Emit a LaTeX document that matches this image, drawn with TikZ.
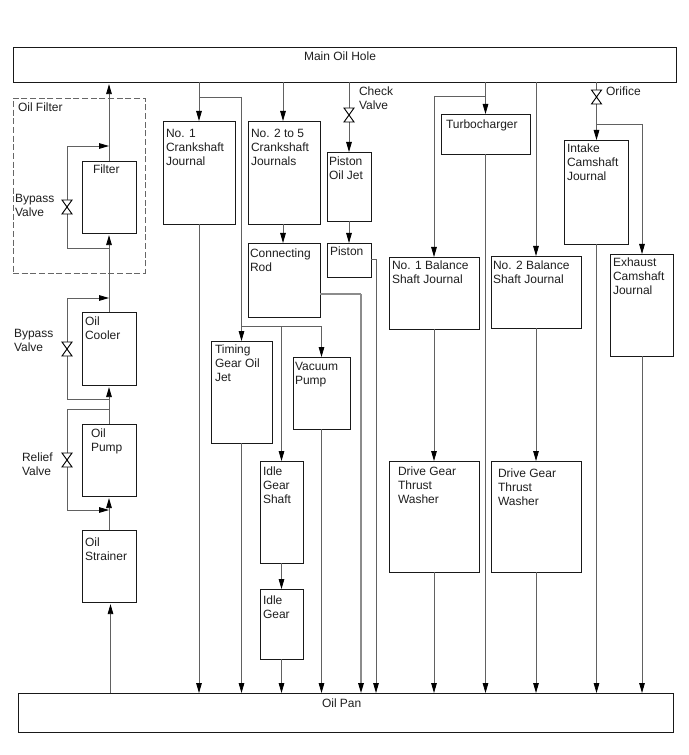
\documentclass[tikz,border=0pt]{standalone}
\usepackage{fontspec}
\setmainfont{Liberation Sans}
\usetikzlibrary{arrows.meta,calc}
\tikzset{
  blockbox/.style={draw=black!90,line width=0.72pt,inner sep=0pt,outer sep=0pt},
  housing/.style={draw=black!60,line width=0.65pt,dash pattern=on 4.5pt off 2pt,inner sep=0pt,outer sep=0pt},
  lbl/.style={anchor=north west,inner sep=0pt,outer sep=0pt,align=left,text=black!88,font=\fontsize{9}{10.5}\selectfont},
  flow/.style={draw=black!62,line width=0.6pt},
  flowheavy/.style={draw=black!45,line width=1pt},
  tip/.style={-{Triangle[length=7.5pt,width=4.2pt,color=black]}},
  upflow/.style={flow,tip,shorten >=1.6pt},
  valveshape/.style={draw=black,line width=0.7pt,fill=white,line join=miter},
}
% a box given by its left, top, right and bottom edges
\newcommand\blockat[5]{\node[blockbox,minimum width={(#4-#2)*0.75pt},minimum height={(#5-#3)*0.75pt}] (#1) at ({(#2+#4)/2},{(#3+#5)/2}) {};}
% text placed by its left edge and first baseline
\newcommand\lblat[4]{\node[lbl] (#1) at (#2,#3-9.33) {\rule{0pt}{7pt}#4};}
% an hourglass valve symbol around a named coordinate
\newcommand\valveat[1]{\draw[valveshape] ($(#1)+(-5,-7)$) -- ($(#1)+(5,-7)$) -- ($(#1)+(-5,7)$) -- ($(#1)+(5,7)$) -- cycle;}
\begin{document}
\begin{tikzpicture}[x=0.75pt,y=-0.75pt]
\useasboundingbox (0,0) rectangle (688,755);
\fill[white] (0,0) rectangle (688,755);

% rails
\blockat{hole}{13}{47}{676}{82}
\blockat{pan}{18}{693}{673}{732}
\node[housing,minimum width={132*0.75pt},minimum height={175*0.75pt}] (housing) at (79,185.5) {};

% lubrication circuit, left column
\blockat{filter}{82}{161}{136}{233}
\blockat{cooler}{82}{312}{136}{385}
\blockat{pump}{82}{424}{136}{496}
\blockat{strainer}{82}{530}{136}{602}

% crankshaft group
\blockat{crank1}{163}{121}{235}{224}
\blockat{crank2}{248}{121}{320}{224}
\blockat{rod}{248}{243}{320}{317}
\blockat{jet}{327}{152}{371}{221}
\blockat{piston}{327}{243}{371}{277}
\blockat{timing}{211}{341}{272}{443}
\blockat{vacuum}{293}{357}{350}{429}
\blockat{idleshaft}{260}{461}{303}{563}
\blockat{idle}{260}{589}{303}{659}

% balance shafts, turbocharger and camshafts
\blockat{turbo}{441}{114}{530}{154}
\blockat{bal1}{389}{257}{479}{329}
\blockat{bal2}{491}{256}{581}{328}
\blockat{wash1}{389}{461}{479}{572}
\blockat{wash2}{491}{461}{581}{572}
\blockat{intake}{564}{140}{628}{244}
\blockat{exhaust}{610}{254}{673}{356}

% branch points and valve positions
\coordinate (fjoinT) at (109,146);
\coordinate (fjoinB) at (109,248);
\coordinate (fleftT) at (67,146);
\coordinate (fleftB) at (67,248);
\coordinate (vfilter) at (67,207);
\coordinate (cjoinT) at (109,298);
\coordinate (cjoinB) at (109,399);
\coordinate (cleftT) at (67,298);
\coordinate (cleftB) at (67,399);
\coordinate (vcooler) at (67,349);
\coordinate (rjoinT) at (109,409);
\coordinate (rjoinB) at (109,510);
\coordinate (rleftT) at (67,409);
\coordinate (rleftB) at (67,510);
\coordinate (vrelief) at (67,460);
\coordinate (sx) at (110.5,650);
\coordinate (c1x) at (199,97);
\coordinate (tx) at (241.5,97);
\coordinate (c2x) at (283,82);
\coordinate (vcheck) at (349,115);
\coordinate (jx) at (349,82);
\coordinate (rodR) at (361,294);
\coordinate (pistonR) at (376,259);
\coordinate (busL) at (241.5,326);
\coordinate (busM) at (281.5,326);
\coordinate (busR) at (321.5,326);
\coordinate (tb) at (485.5,96);
\coordinate (tbL) at (434,96);
\coordinate (b2x) at (536,82);
\coordinate (vorifice) at (596.5,97);
\coordinate (ix) at (596.5,124);
\coordinate (ex) at (642,124);

% connectors, left column
\draw[upflow] (pan.north -| sx) -- (strainer.south -| sx);
\draw[upflow] (strainer.north) -- (pump.south);
\draw[upflow] (pump.north) -- (cooler.south);
\draw[upflow] (cooler.north) -- (filter.south);
\draw[upflow] (filter.north) -- (filter.north |- hole.south);
\draw[flow] (fjoinB) -- (fleftB) -- (fleftT);
\draw[flow,tip] (fleftT) -- (fjoinT);
\draw[flow] (cjoinB) -- (cleftB) -- (cleftT);
\draw[flow,tip] (cleftT) -- (cjoinT);
\draw[flow] (rjoinT) -- (rleftT) -- (rleftB);
\draw[flow,tip] (rleftB) -- (rjoinB);

% connectors, crankshaft group
\draw[flow,tip] (hole.south -| c1x) -- (crank1.north);
\draw[flow] (c1x) -- (tx);
\draw[flow,tip] (tx) -- (timing.north -| tx);
\draw[flow] (busL) -- (busR);
\draw[flow,tip] (busR) -- (vacuum.north -| busR);
\draw[flow,tip] (busM) -- (idleshaft.north -| busM);
\draw[flow,tip] (hole.south -| c2x) -- (crank2.north -| c2x);
\draw[flow,tip] (crank2.south -| c2x) -- (rod.north -| c2x);
\draw[flow,tip] (jx) -- (jet.north -| jx);
\draw[flow,tip] (jet.south -| jx) -- (piston.north -| jx);
\draw[flow,tip] (idleshaft.south -| busM) -- (idle.north -| busM);
\draw[flow,tip] (crank1.south -| c1x) -- (pan.north -| c1x);
\draw[flow,tip] (timing.south -| tx) -- (pan.north -| tx);
\draw[flow,tip] (idle.south -| busM) -- (pan.north -| busM);
\draw[flow,tip] (vacuum.south -| busR) -- (pan.north -| busR);
\draw[flowheavy] (rod.east |- rodR) -- (rodR);
\draw[flowheavy,tip] (rodR) -- (pan.north -| rodR);
\draw[flow] (piston.east |- pistonR) -- (pistonR);
\draw[flow,tip] (pistonR) -- (pan.north -| pistonR);

% connectors, right-hand groups
\draw[flow,tip] (hole.south -| tb) -- (turbo.north -| tb);
\draw[flow] (tb) -- (tbL);
\draw[flow,tip] (tbL) -- (bal1.north -| tbL);
\draw[flow,tip] (bal1.south -| tbL) -- (wash1.north -| tbL);
\draw[flow,tip] (wash1.south -| tbL) -- (pan.north -| tbL);
\draw[flow,tip] (turbo.south -| tb) -- (pan.north -| tb);
\draw[flow,tip] (b2x) -- (bal2.north -| b2x);
\draw[flow,tip] (bal2.south -| b2x) -- (wash2.north -| b2x);
\draw[flow,tip] (wash2.south -| b2x) -- (pan.north -| b2x);
\draw[flow,tip] (hole.south -| ix) -- (intake.north -| ix);
\draw[flow] (ix) -- (ex);
\draw[flow,tip] (ex) -- (exhaust.north -| ex);
\draw[flow,tip] (intake.south -| ix) -- (pan.north -| ix);
\draw[flow,tip] (exhaust.south -| ex) -- (pan.north -| ex);

% valves sit on top of their lines
\valveat{vfilter}
\valveat{vcooler}
\valveat{vrelief}
\valveat{vcheck}
\valveat{vorifice}

% text
\lblat{tHole}{304}{61}{Main Oil Hole}
\lblat{tPan}{322}{707}{Oil Pan}
\lblat{tHousing}{18}{111}{Oil Filter}
\lblat{tFilter}{93}{173}{Filter}
\lblat{tBp1}{15}{202}{Bypass\\Valve}
\lblat{tBp2}{14}{337}{Bypass\\Valve}
\lblat{tCooler}{85}{325}{Oil\\Cooler}
\lblat{tRelief}{22}{461}{Relief\\Valve}
\lblat{tPump}{91}{437}{Oil\\Pump}
\lblat{tStrainer}{85}{546}{Oil\\Strainer}
\lblat{tC1}{166}{137}{No. 1\\Crankshaft\\Journal}
\lblat{tC2}{251}{137}{No. 2 to 5\\Crankshaft\\Journals}
\lblat{tCheck}{359}{96}{Check\\Valve}
\lblat{tJet}{329}{165}{Piston\\Oil Jet}
\lblat{tPiston}{330}{255}{Piston}
\lblat{tRod}{250}{257}{Connecting\\Rod}
\lblat{tTiming}{215}{353}{Timing\\Gear Oil\\Jet}
\lblat{tVacuum}{295}{370}{Vacuum\\Pump}
\lblat{tShaft}{263}{475}{Idle\\Gear\\Shaft}
\lblat{tIdle}{263}{604}{Idle\\Gear}
\lblat{tTurbo}{446}{128}{Turbocharger}
\lblat{tBal1}{392}{269}{No. 1 Balance\\Shaft Journal}
\lblat{tBal2}{493}{269}{No. 2 Balance\\Shaft Journal}
\lblat{tW1}{398}{475}{Drive Gear\\Thrust\\Washer}
\lblat{tW2}{498}{477}{Drive Gear\\Thrust\\Washer}
\lblat{tOrifice}{606}{96}{Orifice}
\lblat{tIntake}{567}{152}{Intake\\Camshaft\\Journal}
\lblat{tExhaust}{613}{266}{Exhaust\\Camshaft\\Journal}
\end{tikzpicture}
\end{document}
